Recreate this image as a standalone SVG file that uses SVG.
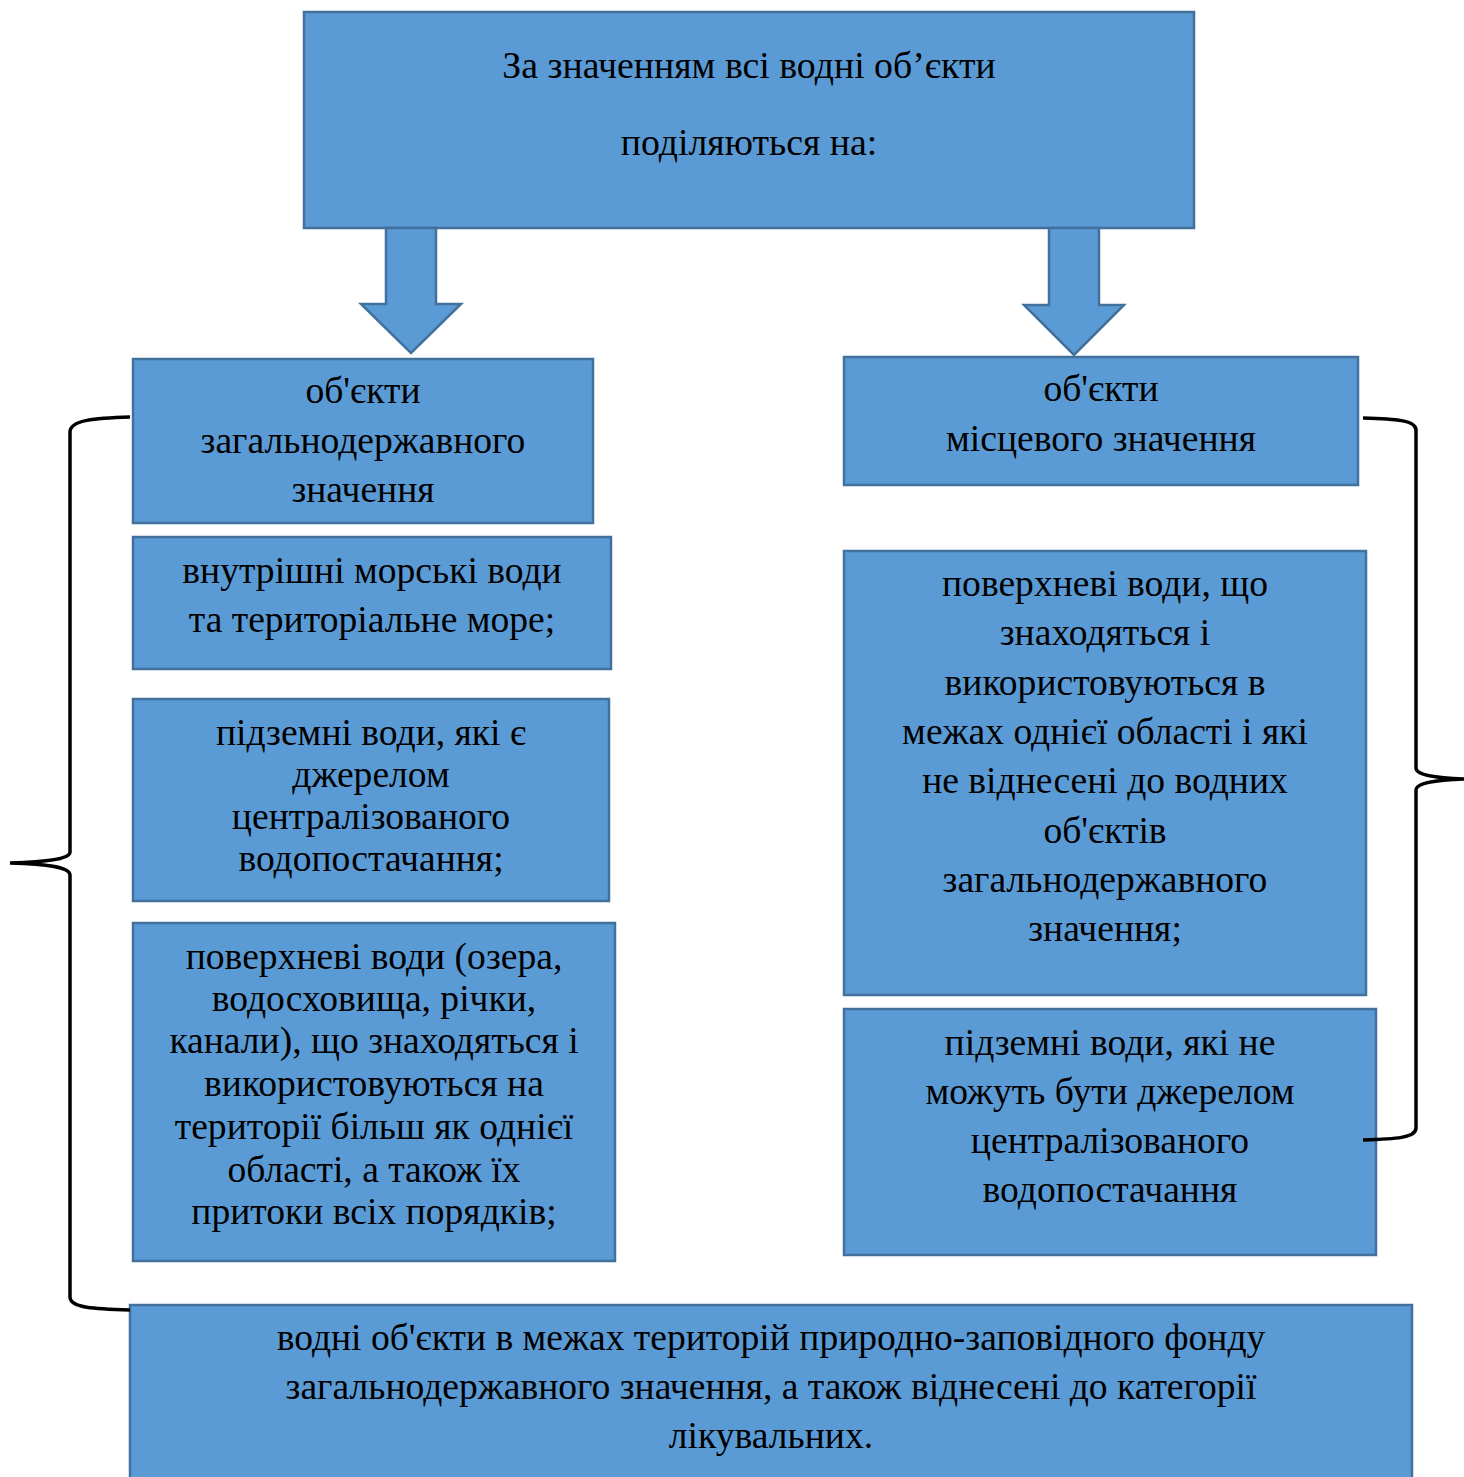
<svg xmlns="http://www.w3.org/2000/svg" width="1464" height="1477" viewBox="0 0 1464 1477">
<style>
.box{fill:#5B9BD5;stroke:#41719C;stroke-width:2.5}
.t{font-family:"Liberation Serif","Times New Roman",serif;font-size:37.6px;fill:#000;text-anchor:middle}
.tt{font-family:"Liberation Serif","Times New Roman",serif;font-size:37.8px;fill:#000;text-anchor:middle}
.brace{fill:none;stroke:#000;stroke-width:3.5}
</style>
<rect width="1464" height="1477" fill="#fff"/>
<g id="top">
<rect class="box" x="304" y="12" width="890" height="216"/>
<text class="tt" x="749" y="78">За значенням всі водні об’єкти</text>
<text class="tt" x="749" y="155">поділяються на:</text>
</g>
<g id="left1">
<rect class="box" x="133" y="359" width="460" height="164"/>
<text class="t" x="363" y="403">об'єкти</text>
<text class="t" x="363" y="453">загальнодержавного</text>
<text class="t" x="363" y="502">значення</text>
</g>
<g id="left2">
<rect class="box" x="133" y="537" width="478" height="132"/>
<text class="t" x="372" y="583">внутрішні морські води</text>
<text class="t" x="372" y="632">та територіальне море;</text>
</g>
<g id="left3">
<rect class="box" x="133" y="699" width="476" height="202"/>
<text class="t" x="371" y="745">підземні води, які є</text>
<text class="t" x="371" y="787">джерелом</text>
<text class="t" x="371" y="829">централізованого</text>
<text class="t" x="371" y="871">водопостачання;</text>
</g>
<g id="left4">
<rect class="box" x="133" y="923" width="482" height="338"/>
<text class="t" x="374" y="969">поверхневі води (озера,</text>
<text class="t" x="374" y="1011">водосховища, річки,</text>
<text class="t" x="374" y="1053">канали), що знаходяться і</text>
<text class="t" x="374" y="1096">використовуються на</text>
<text class="t" x="374" y="1139">території більш як однієї</text>
<text class="t" x="374" y="1182">області, а також їх</text>
<text class="t" x="374" y="1224">притоки всіх порядків;</text>
</g>
<g id="bottom">
<rect class="box" x="130" y="1305" width="1282" height="180"/>
<text class="t" x="771" y="1350">водні об'єкти в межах територій природно-заповідного фонду</text>
<text class="t" x="771" y="1399">загальнодержавного значення, а також віднесені до категорії</text>
<text class="t" x="771" y="1448">лікувальних.</text>
</g>
<g id="right1">
<rect class="box" x="844" y="357" width="514" height="128"/>
<text class="t" x="1101" y="401">об'єкти</text>
<text class="t" x="1101" y="451">місцевого значення</text>
</g>
<g id="right2">
<rect class="box" x="844" y="551" width="522" height="444"/>
<text class="t" x="1105" y="596">поверхневі води, що</text>
<text class="t" x="1105" y="645">знаходяться і</text>
<text class="t" x="1105" y="695">використовуються в</text>
<text class="t" x="1105" y="744">межах однієї області і які</text>
<text class="t" x="1105" y="793">не віднесені до водних</text>
<text class="t" x="1105" y="843">об'єктів</text>
<text class="t" x="1105" y="892">загальнодержавного</text>
<text class="t" x="1105" y="941">значення;</text>
</g>
<g id="right3">
<rect class="box" x="844" y="1009" width="532" height="246"/>
<text class="t" x="1110" y="1055">підземні води, які не</text>
<text class="t" x="1110" y="1104">можуть бути джерелом</text>
<text class="t" x="1110" y="1153">централізованого</text>
<text class="t" x="1110" y="1202">водопостачання</text>
</g>
<g id="connectors">
<path class="box" d="M386,228 V304 H361 L411,353 L461,304 H436 V228 Z"/>
<path class="box" d="M1049,228 V305 H1024 L1074,355 L1124,305 H1099 V228 Z"/>
<path class="brace" d="M130,417 C95,418 70,420 70,432 V852 C70,860 40,862 10,863 C40,864 70,866 70,875 V1297 C70,1308 95,1309 130,1310"/>
<path class="brace" d="M1363,418 C1395,419 1416,420 1416,430 V768 C1416,776 1440,778 1464,779 C1440,780 1416,782 1416,790 V1128 C1416,1138 1395,1139 1363,1140"/>
</g>
</svg>
